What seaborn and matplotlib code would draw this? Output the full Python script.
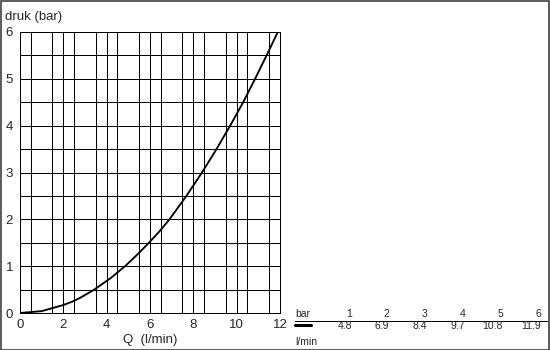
import matplotlib
matplotlib.use("Agg")
import matplotlib.pyplot as plt
import seaborn as sns
from matplotlib.lines import Line2D
from matplotlib.patches import Rectangle

# Data
curve_q = [0.0, 1.0, 2.0, 2.45, 2.8, 3.43, 4.2, 4.85, 5.42, 5.95, 6.45, 6.9,
           7.68, 8.4, 9.07, 9.7, 10.3, 10.85, 11.38, 11.9]
curve_p = [0.0, 0.04, 0.17, 0.25, 0.33, 0.5, 0.75, 1.0, 1.25, 1.5, 1.75, 2.0,
           2.5, 3.0, 3.5, 4.0, 4.5, 5.0, 5.5, 6.0]
table_bar = ["1", "2", "3", "4", "5", "6"]
table_lmin = ["4.8", "6.9", "8.4", "9.7", "10.8", "11.9"]
x_ticks = [0, 2, 4, 6, 8, 10, 12]
y_ticks = [0, 1, 2, 3, 4, 5, 6]

sns.set_style("white")
plt.rcParams["font.family"] = ["Liberation Sans", "DejaVu Sans"]

W, H = 550, 350
PX = 0.72  # one pixel in points at 100 dpi
fig = plt.figure(figsize=(5.5, 3.5), dpi=100)
fig.patch.set_facecolor("white")

def fx(px):
    return px / W

def fy(py):
    return 1 - py / H

ax = fig.add_axes([fx(20), fy(313), (280 - 20) / W, (313 - 32) / H])
ax.set_facecolor("white")

sns.lineplot(x=curve_q, y=curve_p, ax=ax, color="black", linewidth=1.35,
             sort=False, estimator=None)

ax.set_xlim(0, 12)
ax.set_ylim(0, 6)
ax.set_xticks(x_ticks)
ax.set_yticks(y_ticks)
ax.set_xticklabels([str(v) for v in x_ticks])
ax.set_yticklabels([str(v) for v in y_ticks])
ax.set_xticks([v + 0.5 for v in range(12)], minor=True)
ax.set_yticks([v + 0.5 for v in range(6)], minor=True)
ax.grid(True, which="both", color="black", linewidth=PX, antialiased=False)
ax.set_axisbelow(True)
ax.tick_params(which="both", length=0)
ax.tick_params(axis="x", pad=4, labelsize=9.5)
ax.tick_params(axis="y", pad=5, labelsize=9.5)
for s in ax.spines.values():
    s.set_color("black")
    s.set_linewidth(PX)
    s.set_antialiased(False)
ax.set_xlabel("")
ax.set_ylabel("")

fig.text(fx(5), fy(17), "druk (bar)", ha="left", va="center", fontsize=9.5)
fig.text(fx(150), fy(340), "Q  (l/min)", ha="center", va="center", fontsize=9.5)

# Table at the bottom right
col_x = [352, 389, 427, 465, 503, 541]
fig.text(fx(295), fy(314), "bar", ha="left", va="center", fontsize=7.5)
for x, b, l in zip(col_x, table_bar, table_lmin):
    fig.text(fx(x), fy(314), b, ha="right", va="center", fontsize=7.5)
    fig.text(fx(x), fy(326), l, ha="right", va="center", fontsize=7.5)
fig.text(fx(295), fy(342), "l/min", ha="left", va="center", fontsize=7.5)
fig.add_artist(Line2D([fx(295), fx(547)], [fy(320.5), fy(320.5)],
                      color="black", linewidth=PX, antialiased=False))
fig.add_artist(Line2D([fx(295), fx(311)], [fy(325), fy(325)],
                      color="black", linewidth=2.2))

# Outer frame
fig.add_artist(Rectangle((0.001, 0.001), 0.997, 0.996, transform=fig.transFigure,
                         fill=False, edgecolor="#404040", linewidth=1.2))

fig.savefig("out.png", dpi=100)
